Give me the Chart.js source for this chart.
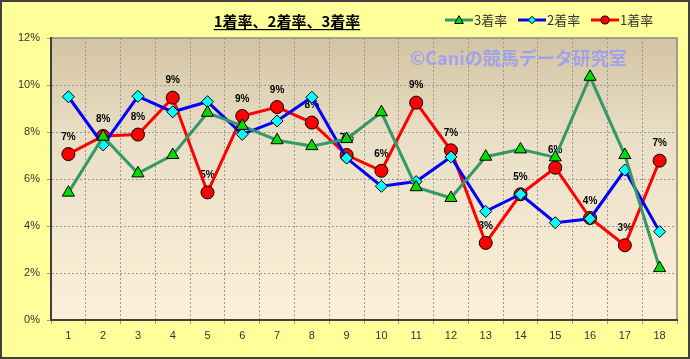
<!DOCTYPE html>
<html><head><meta charset="utf-8">
<script src="https://cdn.jsdelivr.net/npm/chart.js@4"></script>
<style>html,body{margin:0;padding:0;background:#FFFF99}#wrap{width:690px;height:359px}</style>
</head><body><div id="wrap"><canvas id="c" width="690" height="359"></canvas></div>
<script>
const categories = ['1','2','3','4','5','6','7','8','9','10','11','12','13','14','15','16','17','18'];
const rate3 = [5.42,7.8,6.24,7.02,8.82,8.26,7.65,7.40,7.7,8.84,5.65,5.19,6.95,7.26,6.92,10.35,7.02,2.21];
const rate2 = [9.50,7.45,9.52,8.86,9.29,7.90,8.47,9.48,6.89,5.69,5.89,6.94,4.62,5.35,4.14,4.31,6.38,3.76];
const rate1 = [7.06,7.83,7.89,9.46,5.43,8.68,9.06,8.40,7.02,6.35,9.25,7.22,3.28,5.35,6.48,4.34,3.18,6.78];
const seriesNames = ['3着率','2着率','1着率'];
const titleText = '1着率、2着率、3着率';
const watermark = '©Caniの競馬データ研究室';
const yTicks = [0,2,4,6,8,10,12];

const FONT = '"Liberation Sans","DejaVu Sans",sans-serif';
const JFONT = '"Noto Sans CJK JP","Noto Sans",sans-serif';

const decor = {
  id:'decor',
  beforeDraw(chart){
    const {ctx, chartArea:a, width, height} = chart;
    ctx.save();
    ctx.fillStyle='#FFFF99';
    ctx.fillRect(0,0,width,height);
    ctx.strokeStyle='#404040'; ctx.lineWidth=2;
    ctx.strokeRect(1,1,width-2,height-2);
    const g = ctx.createLinearGradient(0,a.top,0,a.bottom);
    g.addColorStop(0,'#D3C4A2'); g.addColorStop(0.35,'#E9DFC6'); g.addColorStop(1,'#FDF0D8');
    ctx.fillStyle=g;
    ctx.fillRect(a.left,a.top,a.right-a.left,a.bottom-a.top);
    ctx.strokeStyle='#888'; ctx.lineWidth=1.5;
    ctx.strokeRect(a.left,a.top,a.right-a.left,a.bottom-a.top);
    ctx.restore();
  },
  beforeDatasetsDraw(chart){
    const {ctx} = chart;
    ctx.save();
    ctx.font = 'bold 18px '+JFONT;
    ctx.fillStyle='rgba(140,150,255,0.75)';
    ctx.textAlign='left'; ctx.textBaseline='middle';
    ctx.fillText(watermark, 410, 58);
    const meta = chart.getDatasetMeta(2);
    ctx.font='bold 10px '+FONT;
    ctx.fillStyle='#000'; ctx.textAlign='center'; ctx.textBaseline='middle';
    meta.data.forEach((p,i)=>{
      ctx.fillText(Math.round(rate1[i])+'%', p.x, p.y-17);
    });
    ctx.restore();
  },
  afterDraw(chart){
    const {ctx} = chart;
    ctx.save();
    ctx.font='bold 15px '+JFONT;
    ctx.fillStyle='#000'; ctx.textAlign='center'; ctx.textBaseline='middle';
    ctx.fillText(titleText, 287, 21);
    const w = ctx.measureText(titleText).width;
    ctx.fillRect(287-w/2, 29, w, 1.2);
    const items = [{x:445, ds:0},{x:518, ds:1},{x:591, ds:2}];
    items.forEach(it=>{
      const d = chart.data.datasets[it.ds];
      const y=20, cx=it.x+14;
      ctx.strokeStyle=d.borderColor; ctx.lineWidth=3;
      ctx.beginPath(); ctx.moveTo(it.x,y); ctx.lineTo(it.x+28,y); ctx.stroke();
      ctx.fillStyle=d.pointBackgroundColor; ctx.strokeStyle='#000'; ctx.lineWidth=1;
      ctx.beginPath();
      const r=d.pointRadius*0.62;
      if(d.pointStyle==='triangle'){ctx.moveTo(cx,y-r);ctx.lineTo(cx+r,y+r*0.8);ctx.lineTo(cx-r,y+r*0.8);ctx.closePath();}
      else if(d.pointStyle==='rectRot'){ctx.moveTo(cx,y-r);ctx.lineTo(cx+r,y);ctx.lineTo(cx,y+r);ctx.lineTo(cx-r,y);ctx.closePath();}
      else {ctx.arc(cx,y,r,0,Math.PI*2);}
      ctx.fill(); ctx.stroke();
      ctx.font='13px '+JFONT; ctx.fillStyle='#333'; ctx.textAlign='left'; ctx.textBaseline='middle';
      ctx.fillText(seriesNames[it.ds], it.x+29, y);
    });
    ctx.restore();
  }
};

new Chart(document.getElementById('c'),{
  type:'line',
  data:{
    labels:categories,
    datasets:[
      {label:seriesNames[0],data:rate3,borderColor:'#339966',borderWidth:3,pointStyle:'triangle',pointRadius:7,pointBackgroundColor:'#00DD00',pointBorderColor:'#000',pointBorderWidth:1,tension:0},
      {label:seriesNames[1],data:rate2,borderColor:'#0000FF',borderWidth:3,pointStyle:'rectRot',pointRadius:6,pointBackgroundColor:'#00FFFF',pointBorderColor:'#000',pointBorderWidth:1,tension:0},
      {label:seriesNames[2],data:rate1,borderColor:'#FF0000',borderWidth:3,pointStyle:'circle',pointRadius:6.5,pointBackgroundColor:'#FF0000',pointBorderColor:'#000',pointBorderWidth:1,tension:0}
    ]
  },
  options:{
    responsive:false, animation:false, devicePixelRatio:1,
    layout:{padding:{top:38,right:13,left:0,bottom:0}},
    plugins:{legend:{display:false},title:{display:false},tooltip:{enabled:false}},
    scales:{
      x:{
        offset:true,
        grid:{offset:true,color:'#999',lineWidth:1,tickLength:4,drawTicks:true},
        border:{display:true,color:'#404040',width:2,dash:[2,2]},
        ticks:{color:'#333',font:{size:11,family:FONT},padding:5,maxRotation:0},
        afterFit(s){s.height=39;}
      },
      y:{
        min:0,max:12,
        afterBuildTicks(s){s.ticks=yTicks.map(v=>({value:v}));},
        grid:{color:'#999',lineWidth:1,tickLength:4},
        border:{display:true,color:'#404040',width:2,dash:[2,2]},
        ticks:{color:'#333',font:{size:11,family:FONT},padding:7,callback:v=>v+'%'},
        afterFit(s){s.width=51;}
      }
    }
  },
  plugins:[decor]
});
</script></body></html>
